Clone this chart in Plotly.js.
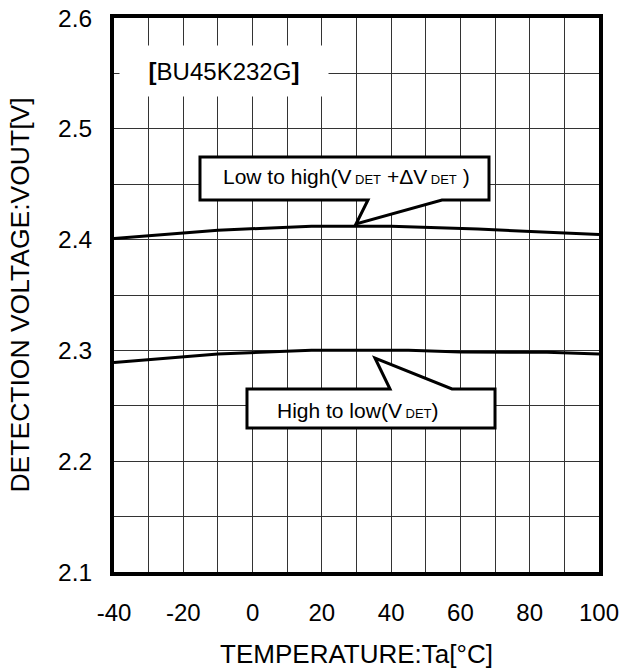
<!DOCTYPE html>
<html><head><meta charset="utf-8">
<script src="https://cdn.plot.ly/plotly-3.0.1.min.js"></script>
<style>html,body{margin:0;padding:0;background:#fff}#chart{width:622px;height:672px}</style>
</head><body><div id="chart"></div>
<script>
// Data
var tempUp = [-40, -10, 17, 40, 65, 87, 100];
var voltUp = [2.401, 2.4085, 2.412, 2.412, 2.4095, 2.406, 2.4045];
var tempLo = [-40, -10, 17, 45, 60, 85, 100];
var voltLo = [2.289, 2.2967, 2.3002, 2.3002, 2.2985, 2.2983, 2.2968];
var xTickVals = [-40, -20, 0, 20, 40, 60, 80, 100];
var xTickText = ['-40', '-20', '0', '20', '40', '60', '80', '100'];
var yTickVals = [2.1, 2.2, 2.3, 2.4, 2.5, 2.6];
var yTickText = ['2.1', '2.2', '2.3', '2.4', '2.5', '2.6'];
var sub = function(s){ return '<span style="font-size:13px"> ' + s + '</span>'; };
var labelUp = "Low to high(V" + sub('DET') + " +ΔV" + sub('DET') + " )";
var labelLo = "High to low(V" + sub('DET') + ")";
var labelPart = "<b>[</b>BU45K232G<b>]</b>";

var W = 622, H = 672;
var M = {l: 114, r: 23, t: 18, b: 100};
var PW = W - M.l - M.r, PH = H - M.t - M.b;
function px(X){ return (X - M.l) / PW; }
function py(Y){ return 1 - (Y - M.t) / PH; }
function path(pts){
  return pts.map(function(p, i){ return (i ? 'L' : 'M') + px(p[0]).toFixed(4) + ',' + py(p[1]).toFixed(4); }).join(' ') + ' Z';
}
var font = "Liberation Sans, Arial, sans-serif";

var traces = [
  {x: tempUp, y: voltUp, mode: 'lines', line: {color: '#000', width: 3}, hoverinfo: 'skip'},
  {x: tempLo, y: voltLo, mode: 'lines', line: {color: '#000', width: 3}, hoverinfo: 'skip'}
];

var layout = {
  width: W, height: H,
  margin: M,
  paper_bgcolor: '#fff', plot_bgcolor: '#fff',
  showlegend: false,
  font: {family: font, color: '#000', size: 24},
  xaxis: {
    range: [-40, 100], tickvals: xTickVals, ticktext: xTickText, ticks: '', showgrid: true,
    gridcolor: '#333', gridwidth: 1,
    minor: {dtick: 10, showgrid: true, gridcolor: '#333', gridwidth: 1},
    showline: true, linecolor: '#000', linewidth: 4, mirror: true,
    zeroline: false, ticklabelstandoff: 16,
    tickfont: {size: 24, family: font},
    title: {text: 'TEMPERATURE:Ta[°C]', font: {size: 26, family: font}, standoff: 21}
  },
  yaxis: {
    range: [2.1, 2.6], tickvals: yTickVals, ticktext: yTickText, ticks: '', showgrid: true,
    gridcolor: '#333', gridwidth: 1,
    minor: {dtick: 0.05, showgrid: true, gridcolor: '#333', gridwidth: 1},
    showline: true, linecolor: '#000', linewidth: 4, mirror: true,
    zeroline: false, ticklabelstandoff: 13,
    tickfont: {size: 24.5, family: font},
    title: {text: 'DETECTION VOLTAGE:VOUT[V]', font: {size: 26.5, family: font}, standoff: 22}
  },
  shapes: [
    {type: 'path', xref: 'paper', yref: 'paper', layer: 'above',
     path: path([[200,157],[489,157],[489,200],[442,200],[356,224],[368,200],[200,200]]),
     fillcolor: '#fff', line: {color: '#000', width: 3}},
    {type: 'path', xref: 'paper', yref: 'paper', layer: 'above',
     path: path([[247,389],[390,389],[375,358],[452,389],[495,389],[495,428],[247,428]]),
     fillcolor: '#fff', line: {color: '#000', width: 3}}
  ],
  annotations: [
    {xref: 'paper', yref: 'paper', x: px(224), y: py(71), text: labelPart, showarrow: false,
     bgcolor: '#fff', width: 206, height: 48, font: {size: 24, family: font}, xanchor: 'center', yanchor: 'middle'},
    {xref: 'paper', yref: 'paper', x: px(346), y: py(176), text: labelUp, showarrow: false,
     font: {size: 21, family: font}, xanchor: 'center', yanchor: 'middle'},
    {xref: 'paper', yref: 'paper', x: px(358), y: py(410), text: labelLo, showarrow: false,
     font: {size: 21, family: font}, xanchor: 'center', yanchor: 'middle'}
  ]
};

Plotly.newPlot('chart', traces, layout, {staticPlot: true, displayModeBar: false});
</script>
</body></html>
